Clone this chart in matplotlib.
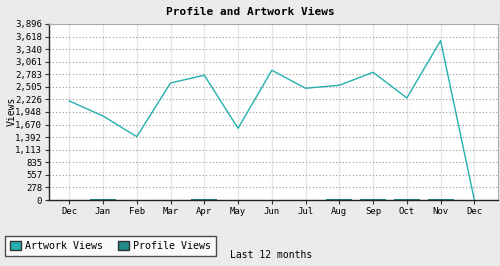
import numpy as np
from matplotlib import pyplot as plt
from matplotlib.patches import Patch

months = ['Dec', 'Jan', 'Feb', 'Mar', 'Apr', 'May', 'Jun',
          'Jul', 'Aug', 'Sep', 'Oct', 'Nov', 'Dec']
artwork_views = [2191, 1860, 1402, 2590, 2761, 1587, 2871,
                 2473, 2539, 2827, 2258, 3527, 0]
profile_views = [0, 30, 0, 0, 25, 0, 0, 0, 25, 30, 25, 25, 0]
y_max = 3896
y_labels = ['0', '278', '557', '835', '1,113', '1,392', '1,670', '1,948',
            '2,226', '2,505', '2,783', '3,061', '3,340', '3,618', '3,896']

bg = '#ebebeb'
line_c = '#26b0ad'
bar_c = '#1f8a87'
font = 'DejaVu Sans Mono'

fig = plt.figure(figsize=(5, 2.66), dpi=100, facecolor=bg)
ax = fig.add_axes([0.098, 0.248, 0.898, 0.662])
ax.set_facecolor('white')

x = np.arange(len(months))
ax.bar(x, profile_views, width=0.77, color=bar_c, zorder=2)
ax.plot(x, artwork_views, color=line_c, linewidth=1.0, zorder=3)

ax.set_xlim(-0.6, 12.7)
ax.set_ylim(0, y_max)
ax.set_xticks(x)
ax.set_xticklabels(months, fontsize=6.5, family=font)
yt = np.arange(len(y_labels)) * y_max / (len(y_labels) - 1)
ax.set_yticks(yt)
ax.set_yticklabels(y_labels, fontsize=6.5, family=font)
ax.tick_params(axis='both', length=3, width=0.8, color='#333333', pad=2)

ax.grid(axis='y', linestyle=(0, (1, 2)), color='#999999', linewidth=0.8)
ax.grid(axis='x', linestyle='-', color='#e6e6e6', linewidth=1.0)
ax.set_axisbelow(True)

for s in ['top', 'right']:
    ax.spines[s].set_color('#aaaaaa')
for s in ['left', 'bottom']:
    ax.spines[s].set_color('#222222')
    ax.spines[s].set_linewidth(1.0)

fig.text(0.5, 0.955, 'Profile and Artwork Views', ha='center', va='center',
         fontsize=8, fontweight='bold', family=font)
fig.text(0.024, 0.58, 'Views', rotation=90, ha='center', va='center',
         fontsize=7, family=font)
fig.text(0.542, 0.04, 'Last 12 months', ha='center', va='center',
         fontsize=7, family=font)

handles = [Patch(facecolor=line_c, edgecolor='#333333', label='Artwork Views'),
           Patch(facecolor=bar_c, edgecolor='#333333', label='Profile Views')]
leg = fig.legend(handles=handles, loc='lower left', bbox_to_anchor=(0.01, 0.038),
                 ncol=2, prop={'family': font, 'size': 7.2}, frameon=True,
                 fancybox=False, edgecolor='#222222', handlelength=1.1,
                 handleheight=1.1, handletextpad=0.4, columnspacing=1.5,
                 borderpad=0.5, borderaxespad=0)
leg.get_frame().set_linewidth(1.0)

fig.savefig('out.png', dpi=100, facecolor=bg)
